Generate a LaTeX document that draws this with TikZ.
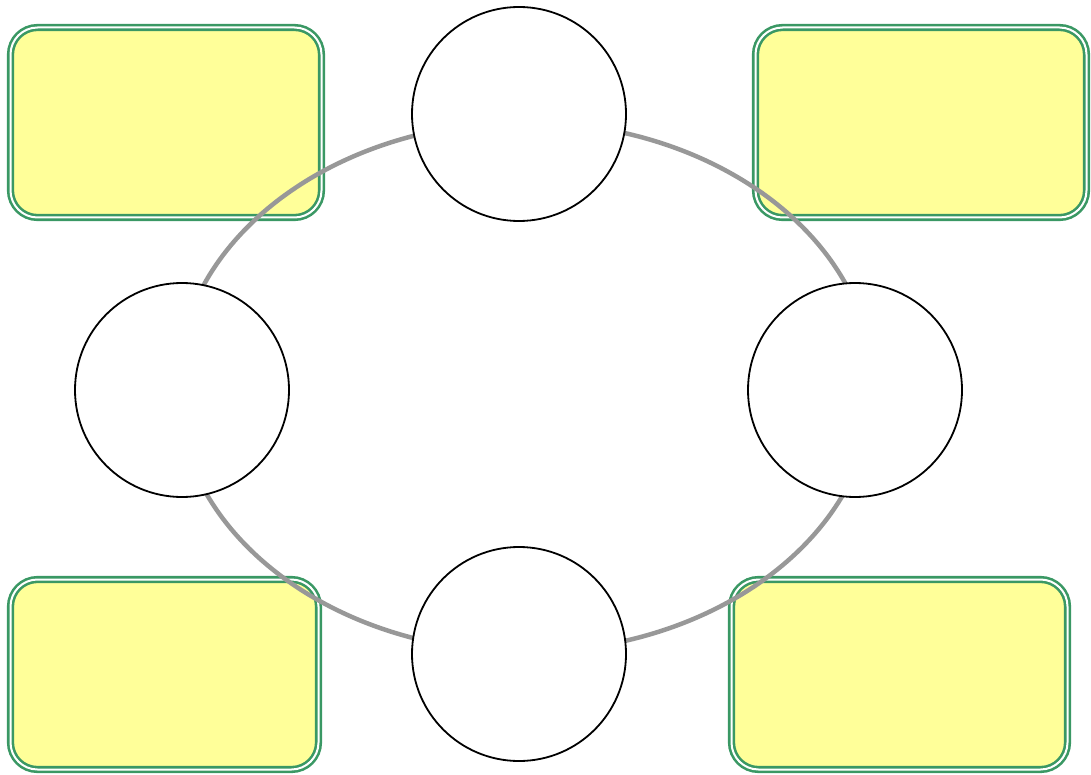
\documentclass[tikz,border=0pt]{standalone}
\usetikzlibrary{shapes.geometric}
\definecolor{boxgreen}{RGB}{58,152,100}
\definecolor{boxyellow}{RGB}{255,255,153}
\definecolor{ringgray}{RGB}{152,152,152}
\begin{document}
\begin{tikzpicture}[x=1pt,y=-1pt,
  yellowbox/.style={draw=boxgreen, double=white, double distance=2pt, line width=2.6pt,
    fill=boxyellow, rounded corners=27pt, inner sep=0pt},
  ring/.style={draw=ringgray, line width=4.5pt, ellipse, inner sep=0pt,
    minimum width=696pt, minimum height=530pt},
  spot/.style={draw=black, line width=1.8pt, fill=white, circle, inner sep=0pt,
    minimum size=214pt}]
\useasboundingbox (0,0) rectangle (1091,775);
\node[yellowbox, minimum width=311pt, minimum height=190pt] (b1) at (166,122.5) {};
\node[yellowbox, minimum width=331pt, minimum height=190pt] (b2) at (921,122.5) {};
\node[yellowbox, minimum width=308pt, minimum height=190pt] (b3) at (164.5,674.5) {};
\node[yellowbox, minimum width=336pt, minimum height=190pt] (b4) at (899.5,674.5) {};
\node[ring] (ring) at (525,387) {};
\node[spot] (top) at (519,114) {};
\node[spot] (left) at (182,390) {};
\node[spot] (right) at (855,390) {};
\node[spot] (bottom) at (519,654) {};
\end{tikzpicture}
\end{document}
